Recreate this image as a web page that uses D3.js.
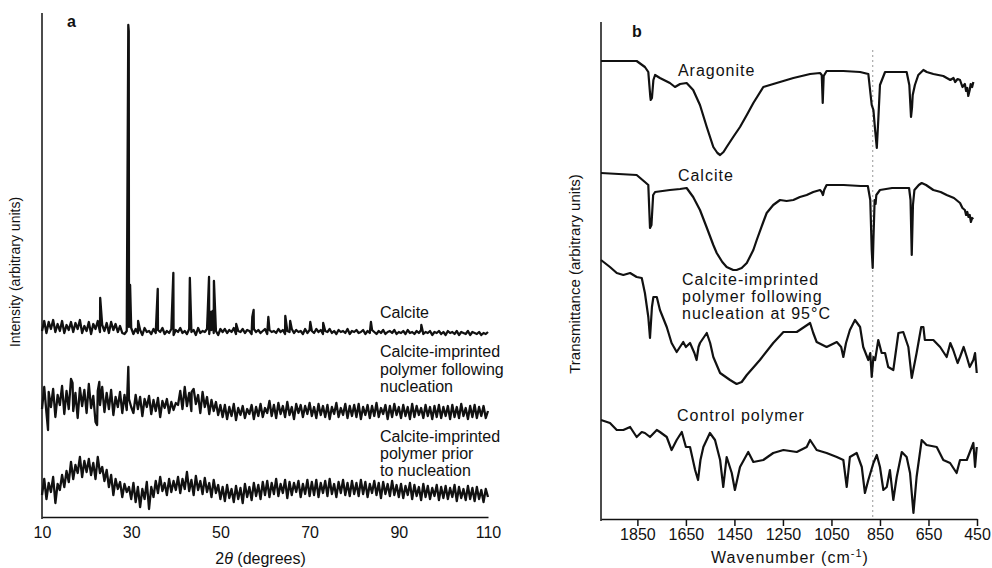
<!DOCTYPE html>
<html><head><meta charset="utf-8">
<script src="https://cdn.jsdelivr.net/npm/d3@7"></script>
<style>
body{margin:0;background:#fff}
svg{display:block}
text{font-family:"Liberation Sans",Arial,Helvetica,sans-serif;fill:#111}
</style></head>
<body><svg id="c" width="992" height="568"></svg>
<script>
// ---------- Panel a: XRD (2theta grid 10..110 step 0.5) ----------
const xrdTicks = [10,30,50,70,90,110];
const calciteXRD = [
186,196,184,195,188,197,185,193,186,196,184,192,187,195,185,194,188,197,184,191,
186,195,183,193,188,196,185,192,186,194,184,195,187,193,185,191,184,
183,186,190,
189,183,188,184,187,182,189,185,186,183,188,184,187,185,189,183,186,184,188,182,
187,185,189,184,186,183,188,185,187,182,189,184,186,185,188,183,187,184,186,182,188,
185,188,184,187,185,189,183,186,185,188,184,187,186,183,188,185,187,184,186,188,
183,187,185,186,184,188,185,187,183,186,185,188,184,187,185,186,183,188,184,187,
186,184,188,185,187,183,186,185,188,184,186,183,187,185,186,184,188,183,186,185,
187,184,185,187,183,186,184,187,185,183,186,184,187,183,185,186,184,187,183,185,
184,186,183,187,184,185,183,186,184,187,183,185,184,186,182,185,184,186,183,185,
182,186,184,185,183,186,182,185,184,183,186,182,185,184,183,185,182,184,183,185];
const calcitePeaks = [[23.05,219],[29.35,492],[29.45,486],[29.75,232],[31.55,196],[35.95,228],[39.45,244],
[43.15,239],[47.15,204],[47.45,240],[47.85,205],[48.25,206],[48.55,236],[53.55,193],[57.15,200],[57.45,207],
[60.75,200],[64.55,201],[65.65,196],[70.15,195],[73.05,194],[83.75,195],[95.05,192]];
const nucleatedXRD = [
108,130,104,125,110,128,100,122,112,131,103,126,108,138,106,124,99,129,111,127,
104,133,109,121,95,126,112,130,105,124,108,127,102,120,110,125,104,122,107,118,110,
104,122,108,120,101,118,110,121,103,117,106,119,100,116,109,118,104,115,107,114,
112,126,108,130,111,124,106,128,113,122,104,125,110,120,103,117,106,115,102,112,
100,112,98,110,101,113,97,109,102,111,99,108,103,112,98,110,101,113,100,109,
104,116,101,112,99,114,103,111,100,115,102,110,98,113,104,112,100,111,103,114,
101,110,99,113,102,111,100,112,98,110,103,114,100,109,102,113,99,111,101,112,
100,113,98,110,102,112,99,111,101,114,100,109,103,112,98,111,100,113,102,110,
99,112,101,110,98,113,100,111,102,109,99,112,101,110,98,111,100,112,99,110,
101,111,98,112,100,110,99,113,101,109,98,111,100,112,99,110,101,111,99,106];
const nucleatedPeaks = [[11.35,87],[16.85,134],[22.35,92],[22.85,135],[29.35,150],[43.55,125]];
const priorXRD = [
22,38,18,34,25,40,14,33,27,42,30,46,35,55,38,52,44,60,40,56,45,
58,42,54,38,60,44,50,36,47,30,42,22,38,28,35,20,33,25,30,18,
34,15,30,10,28,18,35,8,30,20,36,24,40,26,34,22,38,25,36,27,
40,24,38,28,45,26,37,22,41,27,36,23,39,25,34,20,37,24,32,18,
30,16,32,19,28,15,31,18,29,14,33,20,30,17,34,21,32,18,35,22,
36,20,34,23,38,21,33,24,37,19,35,22,34,25,36,20,33,23,37,21,
35,22,37,20,34,24,36,21,38,23,33,20,35,24,37,22,34,21,36,23,
34,21,37,23,35,20,33,24,36,22,34,19,35,23,33,21,36,22,32,20,
33,19,31,22,34,18,32,21,30,17,33,20,31,18,29,21,32,17,30,19,
31,18,29,20,32,16,30,19,28,17,31,18,29,16,30,18,27,15,28,20];

// ---------- Panel b: IR spectra [wavenumber, transmittance] ----------
const irTicks = [1850,1650,1450,1250,1050,850,650,450];
const aragoniteIR = [[2000,459],[1853,459],[1819,453],[1805,448],[1797,424],[1795,420],[1790,422],[1784,440],[1777,445],
[1757,442],[1716,437],[1695,433],[1674,436],[1647,437],[1620,430],[1592,415],[1564,393],[1537,373],[1520,367],[1509,365],
[1495,368],[1482,373],[1455,383],[1427,393],[1399,405],[1372,417],[1331,433],[1276,437],[1207,442],[1138,446],[1097,447],
[1090,445],[1086,417],[1082,444],[1070,449],[1001,449],[932,448],[898,446],[884,415],[877,410],[870,390],[863,372],
[857,400],[850,435],[829,448],[740,448],[729,435],[722,403],[718,412],[715,425],[706,435],[692,445],[671,450],[657,448],
[630,446],[589,444],[560,440],[547,442],[540,438],[530,441],[520,440],[510,433],[500,436],[495,429],[490,432],[486,424],
[480,430],[476,436],[470,433],[465,438]];
const calciteIR = [[2000,347],[1853,345],[1819,338],[1805,335],[1798,292],[1792,295],[1785,325],[1777,328],[1716,330],
[1674,331],[1647,332],[1620,323],[1592,310],[1565,293],[1537,275],[1523,267],[1500,258],[1482,253],[1455,250],[1441,250],
[1420,252],[1399,257],[1372,270],[1358,280],[1331,298],[1317,307],[1290,315],[1262,320],[1235,319],[1207,320],[1180,323],
[1152,325],[1125,328],[1097,330],[1090,328],[1085,325],[1080,330],[1070,335],[1000,335],[930,334],[900,334],[890,320],
[884,270],[880,252],[877,280],[872,320],[868,316],[865,325],[850,330],[800,332],[730,332],[724,320],[719,265],[714,315],
[708,330],[690,335],[678,337],[660,335],[630,330],[600,328],[575,325],[545,322],[520,317],[510,312],[500,310],[495,305],
[490,308],[485,303],[480,305],[475,298],[470,302],[465,301]];
const imprintedIR = [[2000,260],[1963,253],[1935,247],[1908,245],[1880,247],[1853,243],[1832,242],[1819,227],[1805,203],
[1798,182],[1790,213],[1784,223],[1770,223],[1757,210],[1729,193],[1709,177],[1688,168],[1661,178],[1650,173],[1633,177],
[1615,167],[1606,160],[1598,173],[1592,177],[1564,187],[1550,177],[1537,163],[1509,147],[1468,140],[1441,136],[1420,138],
[1399,145],[1345,160],[1290,177],[1248,188],[1193,188],[1150,195],[1138,197],[1125,187],[1111,178],[1070,173],[1028,178],
[1010,173],[1001,163],[990,177],[974,190],[953,200],[932,193],[919,173],[898,160],[890,167],[884,143],[877,163],[870,160],
[857,180],[843,167],[829,167],[816,153],[795,150],[774,187],[754,188],[733,173],[719,142],[699,167],[680,193],[671,193],
[665,180],[658,180],[630,180],[602,173],[575,163],[560,177],[548,170],[530,157],[520,163],[505,173],[492,163],[480,153],
[465,160],[458,167],[451,147]];
const controlIR = [[2000,100],[1963,97],[1935,90],[1908,90],[1880,93],[1853,83],[1832,88],[1819,87],[1798,83],[1770,90],
[1757,88],[1729,83],[1709,70],[1688,80],[1667,88],[1650,73],[1633,73],[1612,50],[1600,40],[1590,60],[1578,73],[1551,87],
[1530,80],[1509,60],[1496,33],[1482,63],[1461,47],[1448,30],[1427,53],[1393,68],[1372,58],[1331,60],[1290,67],[1248,70],
[1193,68],[1152,73],[1138,80],[1111,70],[1070,67],[1028,63],[1001,60],[987,33],[974,63],[946,67],[925,53],[912,27],
[898,40],[877,57],[863,65],[850,53],[836,30],[822,33],[809,50],[795,20],[781,43],[760,68],[740,63],[726,47],[712,7],
[699,43],[678,80],[658,75],[616,73],[589,60],[561,57],[534,47],[520,60],[492,60],[465,77],[458,53],[451,73]];
const referenceLineW = 880;

// ---------- drawing ----------
const svg = d3.select("#c");
const xA = d3.scaleLinear().domain([10,110]).range([42,488]);
const yA = d3.scaleLinear().domain([0,504]).range([517,13]);
const xB = d3.scaleLinear().domain([2000,450]).range([601,977]);
const yB = d3.scaleLinear().domain([0,498]).range([520,22]);

function xrdPoints(vals, peaks){
  const pts = vals.map((v,i)=>[10+i*0.5, v]);
  return pts.concat(peaks).sort((a,b)=>a[0]-b[0]);
}
const lineA = d3.line().x(d=>xA(d[0])).y(d=>yA(d[1]));
const lineB = d3.line().x(d=>xB(d[0])).y(d=>yB(d[1]));

// panel a axes
svg.append("line").attr("x1",xA(10)).attr("x2",xA(10)).attr("y1",yA(504)).attr("y2",yA(0)+2)
  .attr("stroke","#111").attr("stroke-width",1.5);
const axA = svg.append("g").attr("transform",`translate(0,${yA(0)})`)
  .call(d3.axisBottom(xA).tickValues(xrdTicks).tickSize(0).tickSizeOuter(0).tickPadding(10).tickFormat(d3.format("d")));
axA.select(".domain").attr("stroke","#111").attr("stroke-width",1.5);
axA.selectAll("text").attr("font-size",16).attr("font-family","Liberation Sans, Arial, sans-serif").attr("fill","#111");

[[calciteXRD,calcitePeaks],[nucleatedXRD,nucleatedPeaks],[priorXRD,[]]].forEach(([v,p])=>{
  svg.append("path").attr("d",lineA(xrdPoints(v,p))).attr("fill","none")
    .attr("stroke","#111").attr("stroke-width",2.3).attr("stroke-linejoin","round");
});

// panel a texts
function multi(x, ys, lines, size, ls){
  const t = svg.append("text").attr("font-size",size).attr("letter-spacing",ls||0);
  lines.forEach((s,i)=>t.append("tspan").attr("x",x).attr("y",ys[i]).text(s));
}
multi(xA(85.8),[318],["Calcite"],16);
multi(xA(85.8),[357,374.5,392],["Calcite-imprinted","polymer following","nucleation"],16);
multi(xA(85.8),[442,459,476],["Calcite-imprinted","polymer prior","to nucleation"],16);
svg.append("text").attr("x",67).attr("y",27).attr("font-size",16).attr("font-weight","bold").text("a");
const tA = svg.append("text").attr("x",xA(59)).attr("y",564).attr("text-anchor","middle").attr("font-size",16);
tA.append("tspan").text("2");
tA.append("tspan").attr("font-style","italic").text("θ");
tA.append("tspan").text(" (degrees)");
svg.append("text").attr("transform","translate(20,272) rotate(-90)").attr("text-anchor","middle")
  .attr("font-size",14).text("Intensity (arbitrary units)");

// panel b axes
svg.append("line").attr("x1",xB(2000)).attr("x2",xB(2000)).attr("y1",yB(498)).attr("y2",yB(0)+1)
  .attr("stroke","#111").attr("stroke-width",1.5);
const axB = svg.append("g").attr("transform",`translate(0,${yB(0)-1})`)
  .call(d3.axisBottom(xB).tickValues(irTicks).tickSize(7).tickSizeOuter(0).tickPadding(3).tickFormat(d3.format("d")));
axB.select(".domain").attr("stroke","#111").attr("stroke-width",1.5);
axB.selectAll(".tick line").attr("stroke","#111").attr("stroke-width",1.5);
axB.selectAll("text").attr("font-size",16).attr("font-family","Liberation Sans, Arial, sans-serif").attr("fill","#111");

svg.append("line").attr("x1",xB(referenceLineW)).attr("x2",xB(referenceLineW)).attr("y1",50).attr("y2",yB(0)-2)
  .attr("stroke","#aaa").attr("stroke-width",1.2).attr("stroke-dasharray","2,3");

[aragoniteIR,calciteIR,imprintedIR,controlIR].forEach(s=>{
  svg.append("path").attr("d",lineB(s)).attr("fill","none").attr("stroke","#111")
    .attr("stroke-width",2.2).attr("stroke-linejoin","round");
});

multi(xB(1683),[75.5],["Aragonite"],16,1);
multi(xB(1683),[181],["Calcite"],16,1);
multi(xB(1666),[285,302,319],["Calcite-imprinted","polymer following","nucleation at 95°C"],16,1);
multi(xB(1687),[421],["Control polymer"],16,1);
svg.append("text").attr("x",632).attr("y",37).attr("font-size",16).attr("font-weight","bold").text("b");
const tB = svg.append("text").attr("x",790).attr("y",563).attr("text-anchor","middle").attr("font-size",16).attr("letter-spacing",1);
tB.append("tspan").text("Wavenumber (cm");
tB.append("tspan").attr("font-size",11).attr("dy",-6).text("-1");
tB.append("tspan").attr("dy",6).text(")");
svg.append("text").attr("transform","translate(580,274) rotate(-90)").attr("text-anchor","middle")
  .attr("font-size",15).text("Transmittance (arbitrary units)");
</script></body></html>
